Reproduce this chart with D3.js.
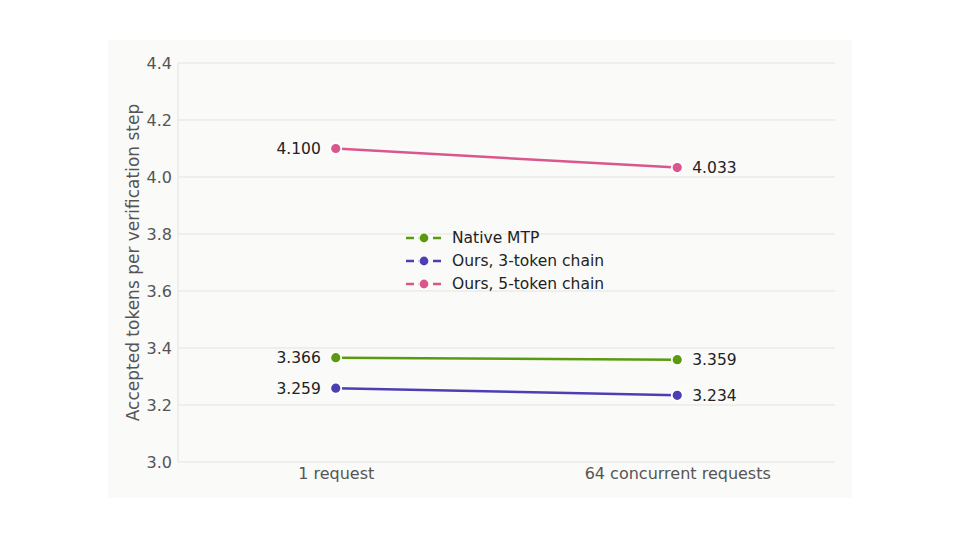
<!DOCTYPE html>
<html>
<head>
<meta charset="utf-8">
<script src="https://cdn.jsdelivr.net/npm/d3@7"></script>
<style>
  body { margin: 0; background: #ffffff; }
  text { font-family: "DejaVu Sans", sans-serif; }
</style>
</head>
<body>
<svg id="chart" width="960" height="540"></svg>
<script>
// data
const categories = ["1 request", "64 concurrent requests"];
const seriesNames = ["Native MTP", "Ours, 3-token chain", "Ours, 5-token chain"];
const nativeMtp = [3.366, 3.359];
const ours3 = [3.259, 3.234];
const ours5 = [4.100, 4.033];
const yTicks = [3.0, 3.2, 3.4, 3.6, 3.8, 4.0, 4.2, 4.4];
const colors = ["#5b9a0f", "#4c3fb3", "#d9578c"];

const series = [nativeMtp, ours3, ours5].map((values, i) => ({
  name: seriesNames[i],
  color: colors[i],
  values: values
}));

const margin = { top: 63, right: 125, bottom: 78, left: 178 };
const width = 960, height = 540;
const chart_width = width - margin.left - margin.right;
const chart_height = height - margin.top - margin.bottom;

const svg = d3.select("#chart");

// panel background
svg.append("rect")
  .attr("x", 108).attr("y", 40)
  .attr("width", 744).attr("height", 458)
  .attr("fill", "#fafaf8");

const g = svg.append("g")
  .attr("transform", "translate(" + margin.left + "," + margin.top + ")");

const xScale = d3.scaleLinear()
  .domain([-0.462, 1.462])
  .range([0, chart_width]);

const yScale = d3.scaleLinear()
  .domain([3.0, 4.4])
  .range([chart_height, 0]);

// grid
g.append("g")
  .selectAll("line")
  .data(yTicks)
  .join("line")
  .attr("x1", 0).attr("x2", chart_width)
  .attr("y1", d => yScale(d)).attr("y2", d => yScale(d))
  .attr("stroke", "#e3e3e0")
  .attr("stroke-width", 1);

// left spine
g.append("line")
  .attr("x1", 0).attr("x2", 0)
  .attr("y1", 0).attr("y2", chart_height)
  .attr("stroke", "#e3e3e0");

// y axis
const yAxis = g.append("g")
  .call(d3.axisLeft(yScale).tickValues(yTicks).tickFormat(d3.format(".1f")).tickSize(0).tickPadding(6));
yAxis.select(".domain").remove();
yAxis.selectAll("text")
  .attr("fill", "#555555")
  .style("font-size", "16px");

// x axis
const xAxis = g.append("g")
  .attr("transform", "translate(0," + chart_height + ")")
  .call(d3.axisBottom(xScale).tickValues([0, 1]).tickFormat(i => categories[i]).tickSize(0).tickPadding(6));
xAxis.select(".domain").remove();
xAxis.selectAll("text")
  .attr("fill", "#555555")
  .style("font-size", "16px");

// y label
svg.append("text")
  .attr("transform", "translate(139," + (margin.top + chart_height / 2) + ") rotate(-90)")
  .attr("text-anchor", "middle")
  .attr("fill", "#555555")
  .style("font-size", "17px")
  .text("Accepted tokens per verification step");

// lines
const line = d3.line()
  .x((d, i) => xScale(i))
  .y(d => yScale(d));

g.selectAll(".series-line")
  .data(series)
  .join("path")
  .attr("class", "series-line")
  .attr("d", d => line(d.values))
  .attr("fill", "none")
  .attr("stroke", d => d.color)
  .attr("stroke-width", 2.5);

// points and value labels
series.forEach(s => {
  g.selectAll(null)
    .data(s.values)
    .join("circle")
    .attr("cx", (d, i) => xScale(i))
    .attr("cy", d => yScale(d))
    .attr("r", 5.5)
    .attr("fill", s.color)
    .attr("stroke", "#ffffff")
    .attr("stroke-width", 1.8);

  g.selectAll(null)
    .data(s.values)
    .join("text")
    .attr("x", (d, i) => xScale(i) + (i === 0 ? -15 : 15))
    .attr("y", d => yScale(d))
    .attr("dy", "0.35em")
    .attr("text-anchor", (d, i) => i === 0 ? "end" : "start")
    .attr("fill", "#222222")
    .style("font-size", "15.5px")
    .text(d => d.toFixed(3));
});

// legend
const legend = svg.append("g")
  .attr("transform", "translate(406,238)");

const item = legend.selectAll("g")
  .data(series)
  .join("g")
  .attr("transform", (d, i) => "translate(0," + i * 23 + ")");

item.append("line")
  .attr("x1", 0).attr("x2", 36)
  .attr("y1", 0).attr("y2", 0)
  .attr("stroke", d => d.color)
  .attr("stroke-width", 2.5)
  .attr("stroke-dasharray", "8,4.5,10,4.5,8");

item.append("circle")
  .attr("cx", 18).attr("cy", 0)
  .attr("r", 5)
  .attr("fill", d => d.color)
  .attr("stroke", "#ffffff")
  .attr("stroke-width", 1.2);

item.append("text")
  .attr("x", 46)
  .attr("y", 0)
  .attr("dy", "0.35em")
  .attr("fill", "#222222")
  .style("font-size", "15.5px")
  .text(d => d.name);
</script>
</body>
</html>
